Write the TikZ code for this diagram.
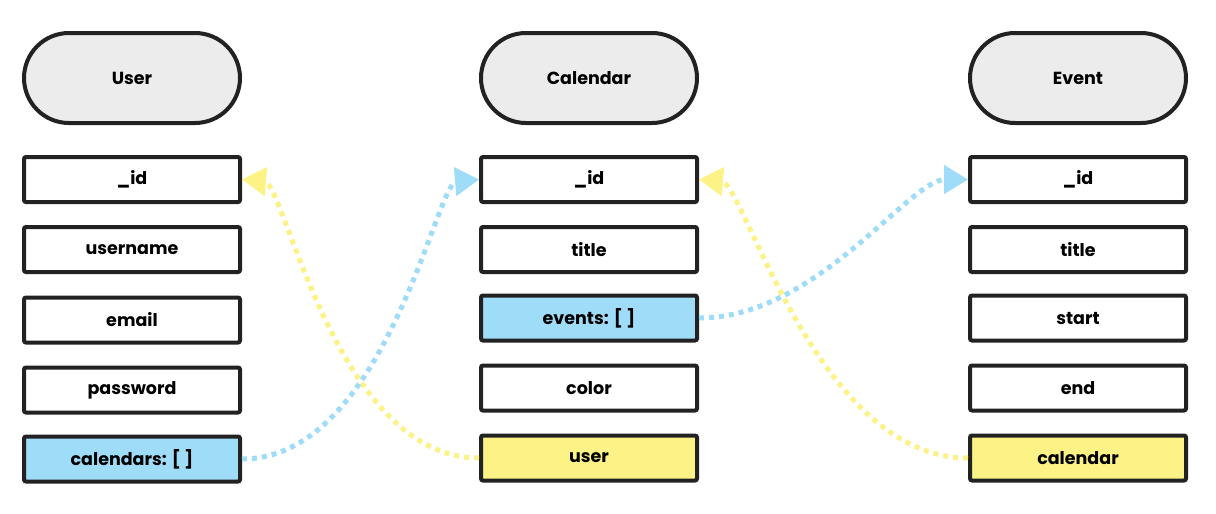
\documentclass[tikz,border=0pt]{standalone}
\usepackage{fontspec}
\setmainfont{Poppins}
\usetikzlibrary{arrows.meta, positioning}

\definecolor{inkgray}{HTML}{222222}
\definecolor{headgray}{HTML}{ECECEC}
\definecolor{refblue}{HTML}{9FDCF8}
\definecolor{refyellow}{HTML}{FCF286}

\begin{document}
\begin{tikzpicture}[
  x=1pt, y=-1pt,
  header/.style={draw=inkgray, fill=headgray, line width=4pt, rounded corners=45pt,
    minimum width=216pt, minimum height=90pt, font=\bfseries\fontsize{17.5}{20}\selectfont},
  field/.style={draw=inkgray, fill=white, line width=4pt, rounded corners=2pt,
    minimum width=216pt, minimum height=45pt, font=\bfseries\fontsize{17.5}{20}\selectfont},
  bluefield/.style={field, fill=refblue},
  yellowfield/.style={field, fill=refyellow},
  bluelink/.style={draw=refblue, line width=5pt, dash pattern=on 5pt off 5pt,
    -{Triangle[length=24pt, width=28pt, fill=refblue]}},
  yellowlink/.style={draw=refyellow, line width=5pt, dash pattern=on 5pt off 5pt,
    -{Triangle[length=24pt, width=28pt, fill=refyellow]}}
]
\useasboundingbox (0,0) rectangle (1216,514);

% User
\node[header] (user) at (132,78) {User};
\node[field] (userid) at (132,179.5) {\_id};
\node[field] (username) at (132,249.5) {username};
\node[field] (email) at (132,320) {email};
\node[field] (password) at (132,390) {password};
\node[bluefield] (calendars) at (132,459) {calendars: [ ]};

% Calendar
\node[header] (calendar) at (589,78) {Calendar};
\node[field] (calid) at (589,179.5) {\_id};
\node[field] (caltitle) at (589,249.5) {title};
\node[bluefield] (events) at (589,318) {events: [ ]};
\node[field] (color) at (589,388) {color};
\node[yellowfield] (caluser) at (589,458) {user};

% Event
\node[header] (event) at (1078,78) {Event};
\node[field] (eventid) at (1078,179.5) {\_id};
\node[field] (eventtitle) at (1078,249.5) {title};
\node[field] (start) at (1078,318) {start};
\node[field] (end) at (1078,388) {end};
\node[yellowfield] (eventcal) at (1078,458) {calendar};

% References
\draw[yellowlink] (caluser.west) to[out=180, in=-5, in looseness=0.3] (userid.east);
\draw[bluelink] (calendars.east) to[out=0, in=185, in looseness=0.3] (calid.west);
\draw[bluelink] (events.east) to[out=0, in=180, in looseness=0.5] (eventid.west);
\draw[yellowlink] (eventcal.west) to[out=180, in=-5, in looseness=0.3] (calid.east);

\end{tikzpicture}
\end{document}
